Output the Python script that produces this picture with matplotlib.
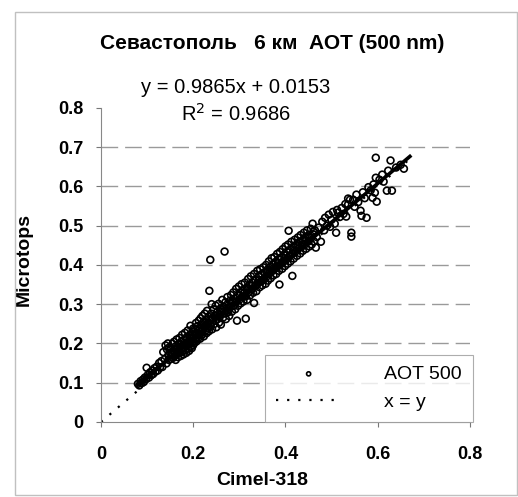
import numpy as np
import matplotlib
matplotlib.use("Agg")
import matplotlib.pyplot as plt
from matplotlib.patches import Rectangle

plt.rcParams['font.family'] = ['Liberation Sans', 'DejaVu Sans']

# AOT 500 pairs: (Cimel-318, Microtops)
points = [
    # low end, tight band
    (0.080, 0.097), (0.083, 0.093), (0.086, 0.104), (0.088, 0.099), (0.091, 0.108),
    (0.093, 0.102), (0.095, 0.113), (0.098, 0.109), (0.099, 0.138), (0.101, 0.119),
    (0.104, 0.113), (0.106, 0.126), (0.109, 0.120), (0.111, 0.131), (0.113, 0.122),
    (0.116, 0.137), (0.118, 0.128), (0.121, 0.141), (0.123, 0.131), (0.126, 0.150),
    (0.128, 0.139), (0.131, 0.155), (0.133, 0.140), (0.135, 0.178), (0.138, 0.160),
    (0.140, 0.195), (0.142, 0.149), (0.143, 0.185), (0.145, 0.200), (0.146, 0.170),
    (0.147, 0.158), (0.148, 0.190), (0.150, 0.176),
    # 0.15 - 0.20
    (0.151, 0.160), (0.152, 0.188), (0.153, 0.173), (0.155, 0.199), (0.156, 0.163),
    (0.157, 0.181), (0.158, 0.204), (0.159, 0.167), (0.160, 0.178), (0.161, 0.192),
    (0.162, 0.158), (0.163, 0.184), (0.164, 0.210), (0.165, 0.172), (0.166, 0.189),
    (0.167, 0.165), (0.168, 0.198), (0.169, 0.180), (0.170, 0.214), (0.171, 0.176),
    (0.172, 0.191), (0.173, 0.168), (0.174, 0.205), (0.175, 0.187), (0.176, 0.222),
    (0.177, 0.179), (0.178, 0.196), (0.179, 0.172), (0.180, 0.209), (0.181, 0.190),
    (0.182, 0.227), (0.183, 0.183), (0.184, 0.201), (0.185, 0.176), (0.186, 0.216),
    (0.187, 0.195), (0.188, 0.233), (0.189, 0.187), (0.190, 0.206), (0.191, 0.181),
    (0.192, 0.221), (0.193, 0.199), (0.194, 0.245), (0.195, 0.192), (0.196, 0.212),
    (0.197, 0.188), (0.198, 0.229), (0.199, 0.205), (0.200, 0.238), (0.200, 0.196),
    # 0.20 - 0.28
    (0.201, 0.219), (0.202, 0.201), (0.204, 0.238), (0.205, 0.213), (0.206, 0.252),
    (0.207, 0.205), (0.208, 0.226), (0.209, 0.244), (0.210, 0.211), (0.211, 0.233),
    (0.212, 0.258), (0.213, 0.220), (0.214, 0.239), (0.215, 0.212), (0.216, 0.264),
    (0.217, 0.229), (0.218, 0.247), (0.219, 0.222), (0.220, 0.270), (0.221, 0.236),
    (0.222, 0.254), (0.223, 0.218), (0.224, 0.243), (0.225, 0.276), (0.226, 0.231),
    (0.227, 0.260), (0.228, 0.247), (0.229, 0.226), (0.230, 0.283), (0.231, 0.252),
    (0.232, 0.238), (0.233, 0.268), (0.234, 0.231), (0.235, 0.334), (0.236, 0.259),
    (0.237, 0.413), (0.238, 0.244), (0.239, 0.276), (0.240, 0.300), (0.241, 0.236),
    (0.242, 0.265), (0.244, 0.287), (0.245, 0.249), (0.246, 0.270), (0.248, 0.258),
    (0.249, 0.296), (0.250, 0.241), (0.252, 0.280), (0.253, 0.262), (0.255, 0.301),
    (0.256, 0.253), (0.258, 0.274), (0.259, 0.289), (0.260, 0.248), (0.262, 0.281),
    (0.263, 0.311), (0.265, 0.266), (0.266, 0.293), (0.268, 0.434), (0.268, 0.276),
    (0.270, 0.305), (0.271, 0.262), (0.272, 0.289), (0.274, 0.318), (0.275, 0.279),
    (0.277, 0.298), (0.278, 0.270), (0.280, 0.309),
    # 0.28 - 0.36
    (0.281, 0.292), (0.282, 0.323), (0.284, 0.281), (0.285, 0.305), (0.287, 0.330),
    (0.288, 0.296), (0.290, 0.314), (0.291, 0.287), (0.293, 0.339), (0.294, 0.306),
    (0.295, 0.258), (0.296, 0.322), (0.297, 0.296), (0.299, 0.345), (0.300, 0.311),
    (0.302, 0.330), (0.303, 0.302), (0.305, 0.351), (0.306, 0.318), (0.308, 0.336),
    (0.309, 0.307), (0.311, 0.329), (0.312, 0.355), (0.314, 0.263), (0.314, 0.320),
    (0.316, 0.342), (0.317, 0.311), (0.319, 0.364), (0.320, 0.330), (0.322, 0.349),
    (0.323, 0.322), (0.325, 0.371), (0.327, 0.338), (0.328, 0.355), (0.330, 0.329),
    (0.332, 0.303), (0.332, 0.377), (0.334, 0.346), (0.335, 0.362), (0.337, 0.333),
    (0.339, 0.385), (0.340, 0.352), (0.342, 0.370), (0.344, 0.343), (0.345, 0.389),
    (0.347, 0.358), (0.349, 0.377), (0.350, 0.348), (0.352, 0.394), (0.354, 0.363),
    (0.355, 0.381), (0.357, 0.352), (0.358, 0.400), (0.360, 0.371),
    # 0.36 - 0.47, dense cluster
    (0.361, 0.388), (0.362, 0.360), (0.364, 0.409), (0.365, 0.379), (0.367, 0.395),
    (0.368, 0.366), (0.370, 0.417), (0.371, 0.384), (0.373, 0.401), (0.374, 0.373),
    (0.376, 0.420), (0.377, 0.390), (0.379, 0.408), (0.380, 0.377), (0.382, 0.428),
    (0.383, 0.397), (0.385, 0.414), (0.386, 0.385), (0.387, 0.350), (0.388, 0.433),
    (0.390, 0.402), (0.391, 0.419), (0.393, 0.390), (0.394, 0.440), (0.396, 0.408),
    (0.397, 0.426), (0.399, 0.397), (0.400, 0.447), (0.402, 0.414), (0.403, 0.433),
    (0.405, 0.403), (0.406, 0.452), (0.407, 0.487), (0.408, 0.421), (0.410, 0.439),
    (0.411, 0.409), (0.413, 0.459), (0.415, 0.372), (0.415, 0.428), (0.417, 0.445),
    (0.418, 0.416), (0.420, 0.464), (0.422, 0.434), (0.423, 0.451), (0.425, 0.423),
    (0.427, 0.470), (0.428, 0.441), (0.430, 0.458), (0.432, 0.429), (0.433, 0.476),
    (0.435, 0.447), (0.437, 0.463), (0.438, 0.436), (0.440, 0.482), (0.442, 0.452),
    (0.443, 0.470), (0.445, 0.441), (0.447, 0.488), (0.449, 0.459), (0.450, 0.475),
    (0.452, 0.447), (0.453, 0.469), (0.455, 0.492), (0.457, 0.452), (0.459, 0.505),
    (0.460, 0.478), (0.462, 0.460), (0.464, 0.488), (0.466, 0.444), (0.468, 0.471),
    # points sitting close to the fit line
    (0.155, 0.176), (0.162, 0.171), (0.171, 0.190), (0.178, 0.186), (0.186, 0.200),
    (0.193, 0.213), (0.203, 0.224), (0.211, 0.222), (0.219, 0.240), (0.226, 0.243),
    (0.233, 0.250), (0.241, 0.262), (0.248, 0.270), (0.257, 0.268), (0.264, 0.285),
    (0.273, 0.284), (0.283, 0.302), (0.292, 0.305), (0.301, 0.322), (0.310, 0.320),
    (0.318, 0.338), (0.326, 0.346), (0.336, 0.349), (0.343, 0.361), (0.351, 0.362),
    (0.359, 0.382), (0.366, 0.384), (0.375, 0.392), (0.384, 0.404), (0.392, 0.407),
    (0.401, 0.424), (0.409, 0.424), (0.419, 0.437), (0.426, 0.447), (0.436, 0.452),
    (0.444, 0.461), (0.451, 0.462), (0.461, 0.485),
    # 0.47 - 0.56
    (0.472, 0.495), (0.477, 0.459), (0.480, 0.510), (0.484, 0.488), (0.486, 0.520),
    (0.490, 0.500), (0.494, 0.528), (0.497, 0.497), (0.500, 0.515), (0.503, 0.535),
    (0.507, 0.505), (0.510, 0.482), (0.512, 0.540), (0.514, 0.533), (0.518, 0.522),
    (0.522, 0.545), (0.526, 0.530), (0.530, 0.555), (0.532, 0.523), (0.536, 0.569),
    (0.536, 0.554), (0.540, 0.566), (0.543, 0.482), (0.543, 0.472), (0.547, 0.566),
    (0.550, 0.548), (0.554, 0.579), (0.558, 0.560),
    # 0.56 - 0.67
    (0.563, 0.538), (0.565, 0.525), (0.568, 0.585), (0.572, 0.570), (0.576, 0.520),
    (0.580, 0.598), (0.585, 0.590), (0.589, 0.571), (0.591, 0.605), (0.594, 0.584),
    (0.596, 0.622), (0.598, 0.561), (0.596, 0.673), (0.604, 0.617), (0.610, 0.630),
    (0.613, 0.612), (0.620, 0.589), (0.623, 0.640), (0.628, 0.666), (0.631, 0.589),
    (0.640, 0.648), (0.650, 0.655), (0.657, 0.645),
]
cimel = np.array([p[0] for p in points])
microtops = np.array([p[1] for p in points])

slope = 0.9865
intercept = 0.0153
fit_range = [0.08, 0.67]
diag_range = [0.0, 0.67]

yticks = [0, 0.1, 0.2, 0.3, 0.4, 0.5, 0.6, 0.7, 0.8]
xticks = [0, 0.2, 0.4, 0.6, 0.8]
ylabels = ['0', '0.1', '0.2', '0.3', '0.4', '0.5', '0.6', '0.7', '0.8']
xlabels = ['0', '0.2', '0.4', '0.6', '0.8']

fig = plt.figure(figsize=(5.18, 4.97), dpi=100)
ax = fig.add_axes([0.195, 0.151, 0.712, 0.632])

# faint outer frame of the chart area
fig.patches.append(Rectangle((0.028, 0.004), 0.97, 0.972, transform=fig.transFigure,
                             fill=False, edgecolor='#c0c0c0', lw=1))

for yv in yticks[1:8]:
    ax.axhline(yv, color='#9a9a9a', lw=1.0, ls=(0, (12, 5)), zorder=0)

ax.plot(diag_range, diag_range, color='black', lw=1.6, ls=(0, (1, 4)),
        label='x = y', zorder=2)
ax.scatter(cimel, microtops, s=24, facecolors='none', edgecolors='black',
           linewidths=1.2, label='AOT 500', zorder=3)
fx = np.array(fit_range)
ax.plot(fx, slope * fx + intercept, color='black', lw=2.6, zorder=4)

ax.set_xlim(0, 0.8)
ax.set_ylim(0, 0.8)
ax.set_xticks(xticks)
ax.set_yticks(yticks)
ax.set_xticklabels(xlabels, fontweight='bold', fontsize=13)
ax.set_yticklabels(ylabels, fontweight='bold', fontsize=13)
ax.tick_params(axis='both', direction='out', length=3.5, color='#777777')
ax.tick_params(axis='y', pad=9)
ax.tick_params(axis='x', pad=14)

for s in ['top', 'right']:
    ax.spines[s].set_visible(False)
for s in ['left', 'bottom']:
    ax.spines[s].set_color('#888888')
    ax.spines[s].set_linewidth(0.8)

ax.set_xlabel('Cimel-318', fontweight='bold', fontsize=14)
ax.set_ylabel('Microtops', fontweight='bold', fontsize=14)
ax.xaxis.set_label_coords(0.436, -0.158)
ax.yaxis.set_label_coords(-0.184, 0.516)

handles, labels = ax.get_legend_handles_labels()
leg = ax.legend(handles[::-1], labels[::-1], loc='lower right',
                bbox_to_anchor=(1.008, 0.0),
                fontsize=14, frameon=True, fancybox=False, handlelength=3.4,
                markerscale=0.6, borderaxespad=0.0, handletextpad=2.2,
                borderpad=0.55, labelspacing=0.55)
leg.get_frame().set_edgecolor('#999999')
leg.get_frame().set_linewidth(0.8)

fig.text(0.525, 0.913, 'Севастополь   6 км  АОТ (500 nm)', ha='center', va='center',
         fontsize=15, fontweight='bold')
fig.text(0.455, 0.823, 'y = 0.9865x + 0.0153', ha='center', va='center', fontsize=14.5)
fig.text(0.455, 0.770, 'R$^2$ = 0.9686', ha='center', va='center', fontsize=14.5)

fig.savefig('out.png', dpi=100)
